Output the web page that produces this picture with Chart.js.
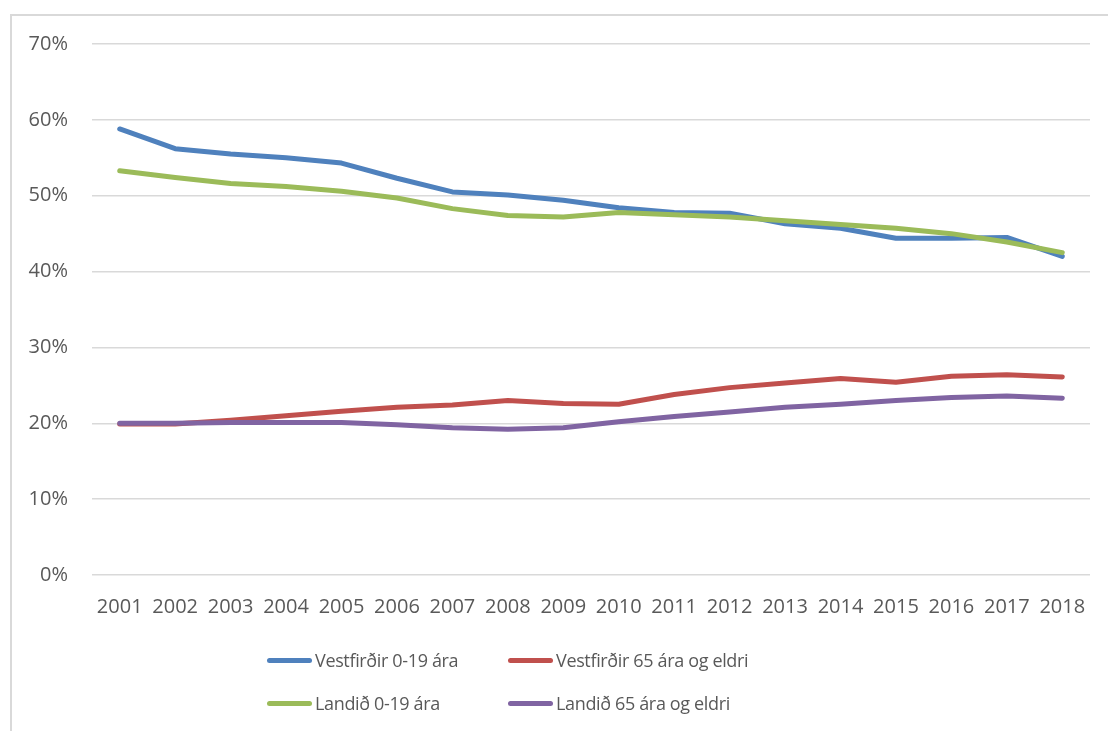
<!DOCTYPE html>
<html>
<head>
<meta charset="utf-8">
<script src="https://cdn.jsdelivr.net/npm/chart.js@4/dist/chart.umd.min.js"></script>
<style>
  html, body { margin: 0; padding: 0; background: #fff; overflow: hidden; width: 1108px; height: 731px; }
  #frame { position: absolute; left: 10px; top: 14px; width: 1200px; height: 800px; border: 2px solid #d9d9d9; box-sizing: border-box; }
  #c { position: absolute; left: 0; top: 0; }
  #legend { position: absolute; left: 0; top: 0; width: 1108px; height: 731px; pointer-events: none; font-family: "Open Sans", sans-serif; font-size: 18px; letter-spacing: -0.35px; color: #595959; }
  .item { position: absolute; display: flex; align-items: center; height: 26px; white-space: nowrap; }
  .swatch { width: 45px; height: 5px; border-radius: 3px; margin-right: 3px; }
</style>
</head>
<body>
<div id="frame"></div>
<canvas id="c" width="1108" height="731"></canvas>
<div id="legend"></div>
<script>
const years = ["2001","2002","2003","2004","2005","2006","2007","2008","2009","2010","2011","2012","2013","2014","2015","2016","2017","2018"];
const vestfirdirYoung = [58.8,56.2,55.5,55.0,54.3,52.3,50.5,50.1,49.4,48.4,47.8,47.7,46.3,45.7,44.4,44.4,44.5,42.0];
const vestfirdirOld   = [19.9,19.9,20.4,21.0,21.6,22.1,22.4,23.0,22.6,22.5,23.8,24.7,25.3,25.9,25.4,26.2,26.4,26.1];
const landidYoung     = [53.3,52.4,51.6,51.2,50.6,49.7,48.3,47.4,47.2,47.8,47.5,47.2,46.7,46.2,45.7,45.0,43.9,42.5];
const landidOld       = [20.0,20.0,20.1,20.1,20.1,19.8,19.4,19.2,19.4,20.2,20.9,21.5,22.1,22.5,23.0,23.4,23.6,23.3];
const seriesLabels = ["Vestfirðir 0-19 ára","Vestfirðir 65 ára og eldri","Landið 0-19 ára","Landið 65 ára og eldri"];
const yTicks = [0,10,20,30,40,50,60,70];

const colors = ["#4f81bd","#c0504d","#9bbb59","#8064a2"];
const drawOrder = [3,2,1,0];
const allData = [vestfirdirYoung, vestfirdirOld, landidYoung, landidOld];

const datasets = allData.map((d, i) => ({
  label: seriesLabels[i],
  data: d,
  borderColor: colors[i],
  backgroundColor: colors[i],
  borderWidth: 5,
  pointRadius: 0,
  pointHoverRadius: 0,
  tension: 0,
  borderCapStyle: 'round',
  borderJoinStyle: 'round',
  order: drawOrder[i],
  fill: false
}));

const font = { family: '"Open Sans", sans-serif', size: 20 };

const chart = new Chart(document.getElementById('c'), {
  type: 'line',
  data: { labels: years, datasets },
  options: {
    responsive: false,
    animation: false,
    devicePixelRatio: 1,
    layout: { padding: { top: 44, right: 18, bottom: 0, left: 0 } },
    plugins: { legend: { display: false }, tooltip: { enabled: false } },
    scales: {
      x: {
        offset: true,
        grid: { display: false, drawTicks: false },
        border: { display: false },
        ticks: { color: '#595959', font, padding: 20, maxRotation: 0, autoSkip: false },
        afterFit: s => { s.height = 156; }
      },
      y: {
        min: 0, max: 70,
        afterBuildTicks: s => { s.ticks = yTicks.map(v => ({ value: v })); },
        grid: { color: '#d9d9d9', lineWidth: 1.5, drawTicks: false },
        border: { display: false },
        ticks: { color: '#595959', font, padding: 24, callback: v => v + '%' },
        afterFit: s => { s.width = 92; }
      }
    }
  }
});

// Legend in two aligned columns, built from the chart's datasets
const legend = document.getElementById('legend');
const colX = [267, 508];
const rowY = [660, 703];
chart.data.datasets.forEach((ds, i) => {
  const item = document.createElement('div');
  item.className = 'item';
  item.style.left = colX[i % 2] + 'px';
  item.style.top = (rowY[Math.floor(i / 2)] - 13) + 'px';
  const sw = document.createElement('span');
  sw.className = 'swatch';
  sw.style.background = ds.borderColor;
  const tx = document.createElement('span');
  tx.textContent = ds.label;
  item.appendChild(sw);
  item.appendChild(tx);
  legend.appendChild(item);
});
</script>
</body>
</html>
